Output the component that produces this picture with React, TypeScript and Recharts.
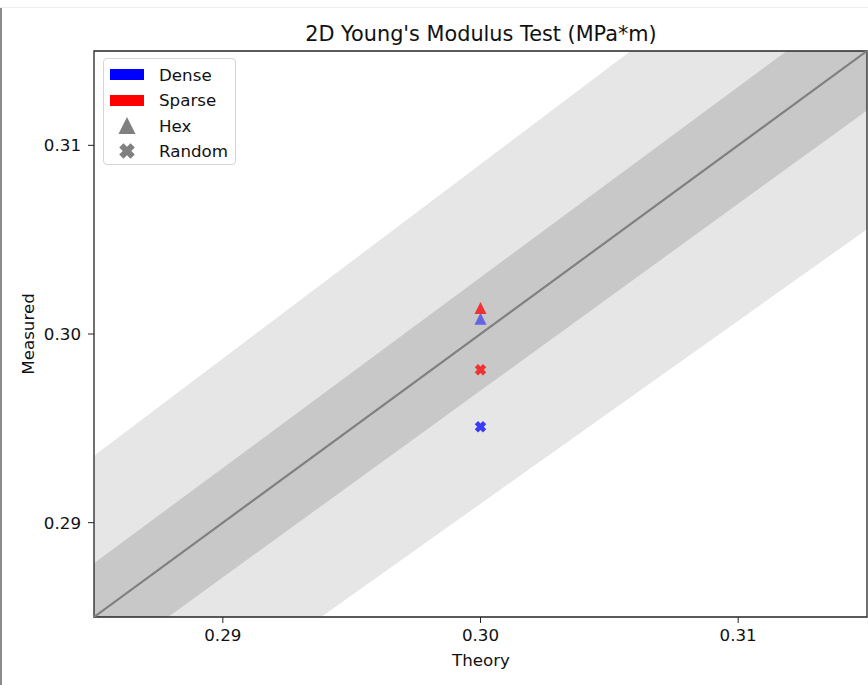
import {
  ComposedChart,
  Area,
  Line,
  Scatter,
  XAxis,
  YAxis,
  ReferenceArea,
} from 'recharts';

// axis range (same for theory and measured)
const AXIS_MIN = 0.285;
const AXIS_MAX = 0.315;
const TICKS = [0.29, 0.3, 0.31];

// tolerance bands around the ideal y = x line
const INNER_TOL = 0.01;
const OUTER_TOL = 0.03;

// measured points, all at theory = 0.30
const THEORY = 0.3;
const denseHex = [0.30074];
const sparseHex = [0.30132];
const denseRandom = [0.29508];
const sparseRandom = [0.2981];

const bandX = [AXIS_MIN, AXIS_MAX];
const bandData = bandX.map((x) => ({
  x,
  ideal: x,
  inner: [x * (1 - INNER_TOL), x * (1 + INNER_TOL)],
  outer: [x * (1 - OUTER_TOL), x * (1 + OUTER_TOL)],
}));

const toPoints = (vals: number[]) => vals.map((y) => ({ x: THEORY, y }));

const FONT = '"DejaVu Sans", sans-serif';

function Triangle(props: any) {
  const { cx, cy, fill, fillOpacity } = props;
  const h = 12;
  const w = 12;
  return (
    <polygon
      points={`${cx},${cy - h * 0.6} ${cx - w / 2},${cy + h * 0.4} ${cx + w / 2},${cy + h * 0.4}`}
      fill={fill}
      fillOpacity={fillOpacity}
    />
  );
}

function xPath(cx: number, cy: number, s: number, t: number) {
  const pts = [
    [t, s], [t, t], [s, t], [s, -t], [t, -t], [t, -s],
    [-t, -s], [-t, -t], [-s, -t], [-s, t], [-t, t], [-t, s],
  ];
  const c = Math.SQRT1_2;
  return pts
    .map(([px, py]) => `${cx + (px - py) * c},${cy + (px + py) * c}`)
    .join(' ');
}

function XMark(props: any) {
  const { cx, cy, fill, fillOpacity, s = 5.8, t = 2.3 } = props;
  return <polygon points={xPath(cx, cy, s, t)} fill={fill} fillOpacity={fillOpacity} />;
}

function LegendBox() {
  const row = { display: 'flex', alignItems: 'center', height: 25.5 } as const;
  const icon = { width: 34, display: 'flex', justifyContent: 'center', marginRight: 15 } as const;
  return (
    <div
      style={{
        position: 'absolute',
        top: 58,
        left: 103,
        width: 133,
        height: 107,
        boxSizing: 'border-box',
        border: '1px solid #d6d6d6',
        borderRadius: 4,
        background: 'rgba(255,255,255,0.85)',
        padding: '3px 0 0 6px',
        fontFamily: FONT,
        fontSize: 16.7,
        color: '#111',
      }}
    >
      <div style={row}>
        <span style={icon}><span style={{ width: 34, height: 11, background: '#0000ff' }} /></span>
        Dense
      </div>
      <div style={row}>
        <span style={icon}><span style={{ width: 34, height: 11, background: '#ff0000' }} /></span>
        Sparse
      </div>
      <div style={row}>
        <span style={icon}>
          <svg width={20} height={20}>
            <polygon points="10,1 1.5,18 18.5,18" fill="#808080" />
          </svg>
        </span>
        Hex
      </div>
      <div style={row}>
        <span style={icon}>
          <svg width={20} height={20}>
            <XMark cx={10} cy={10} s={8} t={3} fill="#808080" />
          </svg>
        </span>
        Random
      </div>
    </div>
  );
}

export default function App() {
  return (
    <div
      style={{
        position: 'absolute',
        top: 0,
        left: 0,
        width: 868,
        height: 685,
        background: '#fff',
        fontFamily: FONT,
      }}
    >
      <div style={{ position: 'absolute', top: 7, left: 0, width: 868, height: 1, background: '#ececec' }} />
      <div style={{ position: 'absolute', top: 8, left: 0, width: 2, height: 677, background: '#8a8a8a' }} />

      <ComposedChart
        width={868}
        height={685}
        data={bandData}
        margin={{ top: 51, right: 1, bottom: 0, left: 0 }}
      >
        <XAxis
          dataKey="x"
          type="number"
          domain={[AXIS_MIN, AXIS_MAX]}
          allowDataOverflow
          ticks={TICKS}
          tickFormatter={(v) => v.toFixed(2)}
          height={68}
          axisLine={false}
          tickSize={6}
          tickMargin={6}
          tickLine={{ stroke: '#222' }}
          tick={{ fontSize: 16.7, fill: '#111', fontFamily: FONT }}
        />
        <YAxis
          type="number"
          domain={[AXIS_MIN, AXIS_MAX]}
          allowDataOverflow
          ticks={TICKS}
          tickFormatter={(v) => v.toFixed(2)}
          width={94}
          axisLine={false}
          tickSize={6}
          tickMargin={7}
          tickLine={{ stroke: '#222' }}
          tick={{ fontSize: 16.7, fill: '#111', fontFamily: FONT }}
        />
        <Area
          dataKey="outer"
          type="linear"
          fill="#e6e6e6"
          fillOpacity={1}
          stroke="none"
          isAnimationActive={false}
        />
        <Area
          dataKey="inner"
          type="linear"
          fill="#c8c8c8"
          fillOpacity={1}
          stroke="none"
          isAnimationActive={false}
        />
        <Line
          dataKey="ideal"
          type="linear"
          stroke="#808080"
          strokeWidth={2.2}
          dot={false}
          isAnimationActive={false}
        />
        <Scatter
          name="Dense Hex"
          data={toPoints(denseHex)}
          dataKey="y"
          fill="#0000ff"
          fillOpacity={0.5}
          shape={<Triangle />}
          isAnimationActive={false}
        />
        <Scatter
          name="Sparse Hex"
          data={toPoints(sparseHex)}
          dataKey="y"
          fill="#ff0000"
          fillOpacity={0.75}
          shape={<Triangle />}
          isAnimationActive={false}
        />
        <Scatter
          name="Dense Random"
          data={toPoints(denseRandom)}
          dataKey="y"
          fill="#0000ff"
          fillOpacity={0.75}
          shape={<XMark />}
          isAnimationActive={false}
        />
        <Scatter
          name="Sparse Random"
          data={toPoints(sparseRandom)}
          dataKey="y"
          fill="#ff0000"
          fillOpacity={0.75}
          shape={<XMark />}
          isAnimationActive={false}
        />
        <ReferenceArea
          x1={AXIS_MIN}
          x2={AXIS_MAX}
          y1={AXIS_MIN}
          y2={AXIS_MAX}
          fill="none"
          stroke="#262626"
          strokeWidth={1.3}
        />
      </ComposedChart>

      <LegendBox />

      <div
        style={{
          position: 'absolute',
          top: 22,
          left: 94,
          width: 774,
          textAlign: 'center',
          fontSize: 20.8,
          color: '#111',
        }}
      >
        2D Young's Modulus Test (MPa*m)
      </div>
      <div
        style={{
          position: 'absolute',
          top: 650,
          left: 94,
          width: 774,
          textAlign: 'center',
          fontSize: 16.7,
          color: '#111',
        }}
      >
        Theory
      </div>
      <div
        style={{
          position: 'absolute',
          top: 334,
          left: 28,
          transform: 'translate(-50%, -50%) rotate(-90deg)',
          fontSize: 16.7,
          color: '#111',
          whiteSpace: 'nowrap',
        }}
      >
        Measured
      </div>
    </div>
  );
}
